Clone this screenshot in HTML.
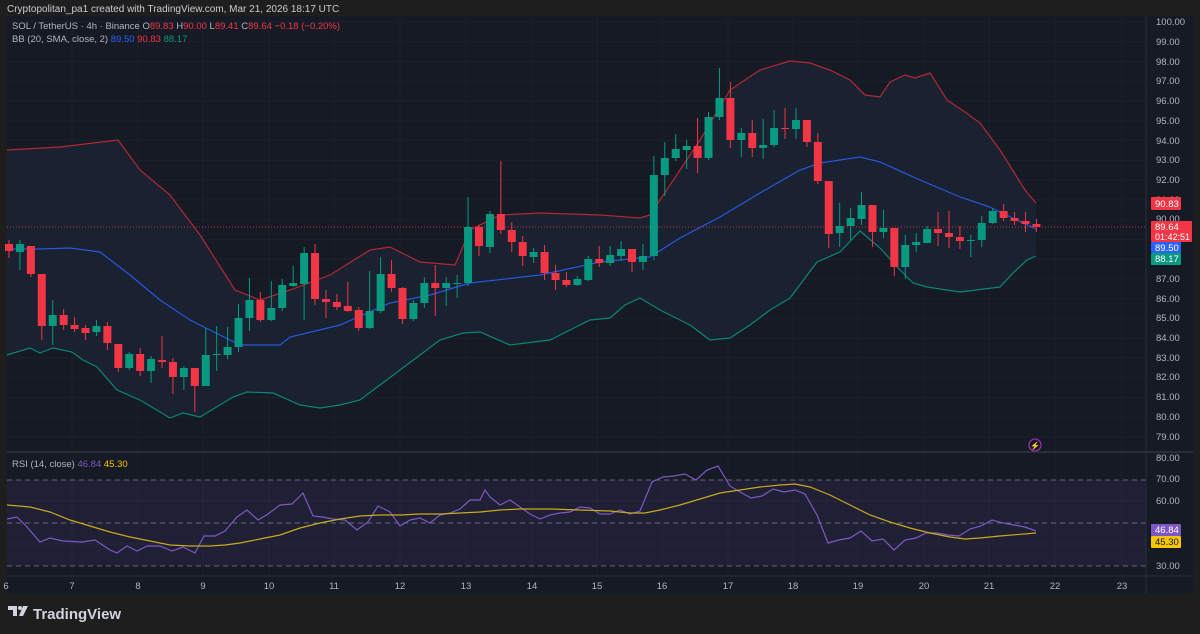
<!DOCTYPE html>
<html><head><meta charset="utf-8">
<style>
html,body{margin:0;padding:0;background:#1e1e1e;width:1200px;height:634px;overflow:hidden;font-family:"Liberation Sans",sans-serif}
svg{position:absolute;left:0;top:0}
</style></head><body>
<svg id="s" width="1200" height="634" viewBox="0 0 1200 634" xmlns="http://www.w3.org/2000/svg" font-family="Liberation Sans, sans-serif">
<rect x="0" y="0" width="1200" height="634" fill="#1e1e1e"/>
<rect x="7" y="16" width="1186" height="578" fill="#161a25"/>
<g id="grid"></g>
<path id="band" fill="#1a2131"/>
<g id="bands"></g>
<line x1="7" y1="227" x2="1146" y2="227" stroke="#f23645" stroke-width="1" stroke-dasharray="1,2" opacity="0.8"/>
<g id="candles"></g>
<line x1="7" y1="452" x2="1193" y2="452" stroke="#2a2e39" stroke-width="2"/>
<rect x="7" y="480" width="1139" height="86" fill="#7e57c2" opacity="0.1"/>
<g stroke="#787b86" stroke-dasharray="5,4" stroke-width="1" opacity="0.8">
<line x1="7" y1="480" x2="1146" y2="480"/><line x1="7" y1="523" x2="1146" y2="523"/><line x1="7" y1="566" x2="1146" y2="566"/>
</g>
<g id="rsi"></g>
<line x1="1146" y1="16" x2="1146" y2="594" stroke="#2a2e39"/>
<line x1="7" y1="576" x2="1193" y2="576" stroke="#2a2e39"/>
<circle cx="1035" cy="445" r="6" fill="none" stroke="#9c27b0" stroke-width="1.3"/>
<text x="1035" y="448.5" font-size="8" fill="#e040fb" text-anchor="middle">⚡</text>
<g font-size="9.5" fill="#b2b5be" id="paxis">
<text x="1156" y="25">100.00</text><text x="1156" y="45">99.00</text><text x="1156" y="65">98.00</text><text x="1156" y="84">97.00</text><text x="1156" y="104">96.00</text><text x="1156" y="124">95.00</text><text x="1156" y="144">94.00</text><text x="1156" y="163">93.00</text><text x="1156" y="183">92.00</text><text x="1156" y="203">91.00</text><text x="1156" y="222">90.00</text><text x="1156" y="262">88.00</text><text x="1156" y="282">87.00</text><text x="1156" y="302">86.00</text><text x="1156" y="321">85.00</text><text x="1156" y="341">84.00</text><text x="1156" y="361">83.00</text><text x="1156" y="380">82.00</text><text x="1156" y="400">81.00</text><text x="1156" y="420">80.00</text><text x="1156" y="440">79.00</text>
<text x="1156" y="461">80.00</text><text x="1156" y="482">70.00</text><text x="1156" y="504">60.00</text><text x="1156" y="547">40.00</text><text x="1156" y="569">30.00</text>
</g>
<rect x="1151" y="197" width="30" height="13" rx="1" fill="#f23645"/><text x="1155" y="207" font-size="9.5" fill="#fff">90.83</text>
<rect x="1151" y="221" width="41" height="21" rx="1" fill="#f23645"/><text x="1155" y="230" font-size="9.5" fill="#fff">89.64</text><text x="1155" y="240" font-size="9" fill="#fff">01:42:51</text>
<rect x="1151" y="242" width="30" height="11" rx="1" fill="#2962ff"/><text x="1155" y="251" font-size="9.5" fill="#fff">89.50</text>
<rect x="1151" y="253" width="30" height="12" rx="1" fill="#089981"/><text x="1155" y="262" font-size="9.5" fill="#fff">88.17</text>
<rect x="1151" y="524" width="30" height="12" rx="1" fill="#7e57c2"/><text x="1155" y="533" font-size="9.5" fill="#fff">46.84</text>
<rect x="1151" y="536" width="30" height="12" rx="1" fill="#f7c600"/><text x="1155" y="545" font-size="9.5" fill="#131722">45.30</text>
<g font-size="9.5" fill="#b2b5be" text-anchor="middle">
<text x="6" y="589">6</text><text x="72" y="589">7</text><text x="138" y="589">8</text><text x="203" y="589">9</text><text x="269" y="589">10</text><text x="334" y="589">11</text><text x="400" y="589">12</text><text x="466" y="589">13</text><text x="532" y="589">14</text><text x="597" y="589">15</text><text x="662" y="589">16</text><text x="728" y="589">17</text><text x="793" y="589">18</text><text x="858" y="589">19</text><text x="924" y="589">20</text><text x="989" y="589">21</text><text x="1055" y="589">22</text><text x="1122" y="589">23</text>
</g>
<text x="7" y="12" font-size="10" fill="#c8cbd2">Cryptopolitan_pa1 created with TradingView.com, Mar 21, 2026 18:17 UTC</text>
<text x="12" y="29" font-size="9.5" fill="#b2b5be">SOL / TetherUS · 4h · Binance  <tspan>O</tspan><tspan fill="#f23645">89.83</tspan> <tspan>H</tspan><tspan fill="#f23645">90.00</tspan> <tspan>L</tspan><tspan fill="#f23645">89.41</tspan> <tspan>C</tspan><tspan fill="#f23645">89.64  −0.18 (−0.20%)</tspan></text>
<text x="12" y="42" font-size="9.5" fill="#b2b5be">BB (20, SMA, close, 2)  <tspan fill="#2962ff">89.50</tspan>  <tspan fill="#f23645">90.83</tspan>  <tspan fill="#089981">88.17</tspan></text>
<text x="12" y="467" font-size="9.5" fill="#b2b5be">RSI (14, close)  <tspan fill="#7e57c2">46.84</tspan>  <tspan fill="#f7c600">45.30</tspan></text>
<g transform="translate(8,606)" fill="#d1d4dc">
<path d="M0 0h9v10h-4v-6h-5z"/><circle cx="12" cy="2" r="2"/><path d="M15 0h5l-5 10h-4z"/>
</g>
<text x="33" y="619" font-size="15" font-weight="bold" fill="#d1d4dc">TradingView</text>
</svg>
<script>
var NS="http://www.w3.org/2000/svg";
function el(p,t,a){var e=document.createElementNS(NS,t);for(var k in a)e.setAttribute(k,a[k]);p.appendChild(e);return e;}
var g=document.getElementById('grid');
for(var i=0;i<=21;i++){var y=22+i*19.76;el(g,'line',{x1:7,y1:y,x2:1146,y2:y,stroke:'#1c202e','stroke-width':1});}
[480,501,523,544].forEach(function(y){el(g,'line',{x1:7,y1:y,x2:1146,y2:y,stroke:'#1c202e'});});
[72,138,203,269,334,400,466,532,597,662,728,793,858,924,989,1055,1122].forEach(function(x){el(g,'line',{x1:x,y1:16,x2:x,y2:576,stroke:'#1c202e'});});
var up=[[7,150],[60,147],[118,140],[140,170],[170,195],[200,235],[235,290],[260,300],[290,290],[330,275],[370,250],[390,247],[420,262],[455,265],[470,230],[500,215],[540,213],[600,215],[640,218],[650,215],[670,185],[700,140],[730,90],[760,70],[790,61],[810,63],[830,70],[850,80],[865,95],[880,97],[890,82],[905,75],[915,78],[930,73],[947,100],[965,112],[980,123],[1000,150],[1025,190],[1036,203]];
var mid=[[7,249],[40,249],[70,248],[100,252],[130,275],[160,300],[190,320],[220,335],[240,345],[280,345],[290,337],[340,325],[390,303],[430,295],[470,283],[540,275],[600,262],[650,257],[680,238],[720,217],[760,193],[800,170],[820,163],[860,157],[880,162],[920,180],[960,197],[990,207],[1000,212],[1036,229]];
var lo=[[7,355],[30,348],[40,353],[53,348],[72,352],[83,360],[97,367],[117,390],[140,400],[170,418],[183,413],[200,417],[233,397],[247,392],[273,393],[300,405],[320,408],[340,405],[360,400],[380,385],[400,370],[420,355],[440,340],[463,333],[480,332],[510,345],[550,340],[570,330],[590,320],[610,318],[625,305],[640,298],[660,310],[690,325],[710,340],[730,338],[750,325],[770,310],[790,298],[817,262],[840,252],[860,231],[880,248],[900,270],[913,283],[927,287],[960,292],[1000,287],[1013,273],[1027,260],[1036,256]];
function pts(a){return a.map(function(p){return p.join(',')}).join(' ');}
document.getElementById('band').setAttribute('d','M'+pts(up)+' L'+pts(lo.slice().reverse())+'Z');
var b=document.getElementById('bands');
el(b,'polyline',{points:pts(up),fill:'none',stroke:'#b22833','stroke-width':1.2});
el(b,'polyline',{points:pts(mid),fill:'none',stroke:'#2962ff','stroke-width':1.2,opacity:0.85});
el(b,'polyline',{points:pts(lo),fill:'none',stroke:'#089981','stroke-width':1.2,opacity:0.85});
var C=[[244,251,240,258],[252,244,240,270],[246,274,246,277],[274,326,274,340],[326,315,300,345],[315,325,309,330],[325,329,317,332],[328,333,325,340],[332,326,320,336],[326,343,322,350],[344,368,344,372],[368,354,352,370],[354,371,348,376],[371,359,356,383],[360,362,336,368],[362,377,358,394],[377,368,366,390],[368,386,368,412],[386,355,328,386],[355,354,326,371],[355,347,327,359],[347,318,304,352],[318,300,278,331],[300,320,292,322],[320,308,281,321],[308,285,279,311],[286,283,266,287],[284,253,247,320],[253,299,244,305],[299,302,290,318],[302,307,294,310],[306,311,282,312],[310,328,307,331],[328,311,271,329],[311,274,257,313],[274,288,260,292],[288,319,287,324],[319,303,300,321],[303,283,277,308],[283,288,265,316],[288,283,277,306],[284,283,275,298],[283,227,197,286],[227,246,225,256],[247,214,211,253],[214,230,161,234],[230,242,222,252],[242,256,236,266],[257,252,248,263],[252,273,245,280],[273,280,265,290],[280,285,272,287],[285,279,276,286],[280,259,256,281],[259,263,246,267],[263,255,246,266],[256,249,241,261],[249,262,249,272],[262,256,244,270],[256,175,156,260],[175,158,142,196],[158,149,134,161],[150,146,140,169],[146,158,118,173],[158,117,112,160],[117,98,68,120],[98,140,82,148],[140,133,128,157],[133,148,120,157],[148,145,119,159],[145,128,110,147],[128,129,108,139],[129,120,108,139],[120,142,120,147],[142,181,133,184],[181,234,181,248],[233,226,203,247],[226,218,208,240],[219,205,192,225],[205,232,205,247],[232,228,210,238],[228,267,228,276],[267,245,235,279],[245,242,233,252],[243,229,226,243],[229,233,212,246],[233,237,211,248],[237,241,226,249],[241,240,235,257],[240,223,216,247],[223,211,208,224],[211,218,204,221],[218,221,212,225],[221,224,212,232],[224,227,219,232]];
var cg=document.getElementById('candles');
C.forEach(function(c,i){var x=9+10.93*i;var o=c[0],cl=c[1];var gr=cl<o||(cl==o);var col=gr?'#089981':'#f23645';
el(cg,'line',{x1:x,y1:c[2],x2:x,y2:c[3],stroke:col,'stroke-width':1});
var t=Math.min(o,cl),h=Math.max(1,Math.abs(o-cl));el(cg,'rect',{x:x-4,y:t,width:8,height:h,fill:col});});
var rsi=[[7,519],[17,517],[27,527],[40,542],[50,538],[63,541],[82,542],[95,540],[110,550],[117,553],[127,546],[137,551],[147,546],[160,546],[172,551],[183,547],[195,553],[204,536],[215,536],[225,531],[237,517],[247,510],[258,520],[268,514],[280,505],[292,504],[303,493],[313,516],[322,517],[333,519],[345,520],[357,530],[368,522],[378,506],[390,512],[400,526],[410,520],[420,518],[430,523],[440,515],[450,513],[460,509],[470,500],[480,500],[485,490],[490,497],[500,505],[510,500],[520,507],[530,514],[540,519],[550,515],[560,513],[570,512],[580,507],[590,508],[600,514],[610,514],[620,510],[630,514],[640,511],[652,482],[663,477],[674,476],[685,474],[696,480],[707,470],[718,466],[730,486],[740,492],[751,498],[762,496],[773,489],[784,492],[795,490],[805,494],[817,515],[828,543],[839,540],[850,538],[861,531],[872,541],[883,539],[894,550],[905,540],[916,538],[926,533],[937,533],[948,535],[959,536],[970,529],[981,526],[992,520],[1003,523],[1014,525],[1025,527],[1036,531]];
var ma=[[7,505],[30,507],[50,512],[70,520],[90,526],[110,532],[130,537],[150,541],[170,545],[190,546],[210,546],[225,545],[240,543],[260,539],[280,535],[300,528],[320,523],[340,519],[360,516],[380,515],[400,515],[420,514],[440,514],[460,513],[480,512],[500,510],[520,509],[550,509],[580,510],[610,511],[630,513],[645,513],[660,510],[680,505],[700,499],[720,493],[740,490],[760,487],[780,485],[795,484],[810,487],[830,495],[850,505],[870,515],[890,522],[910,528],[930,533],[950,537],[965,539],[980,538],[1000,536],[1036,533]];
var r=document.getElementById('rsi');
el(r,'polyline',{points:pts(rsi),fill:'none',stroke:'#7e57c2','stroke-width':1.2});
el(r,'polyline',{points:pts(ma),fill:'none',stroke:'#c9a91f','stroke-width':1.2});
</script>
</body></html>
